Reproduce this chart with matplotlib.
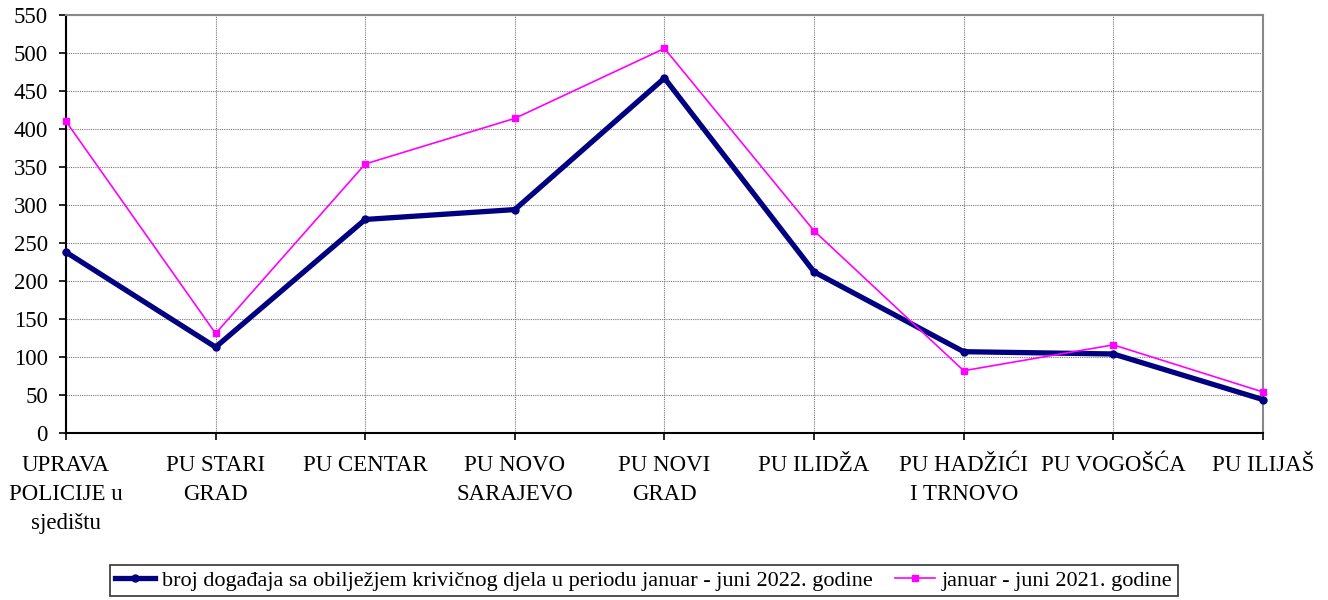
import matplotlib.pyplot as plt

plt.rcParams['font.family'] = ['Liberation Serif', 'DejaVu Serif']

categories = ['UPRAVA\nPOLICIJE u\nsjedištu', 'PU STARI\nGRAD', 'PU CENTAR',
              'PU NOVO\nSARAJEVO', 'PU NOVI\nGRAD', 'PU ILIDŽA',
              'PU HADŽIĆI\nI TRNOVO', 'PU VOGOŠĆA', 'PU ILIJAŠ']
y2022 = [238, 113, 281, 294, 467, 212, 107, 104, 44]
y2021 = [410, 131, 354, 414, 506, 266, 82, 116, 54]
label2022 = 'broj događaja sa obilježjem krivičnog djela u periodu januar - juni 2022. godine'
label2021 = 'januar - juni 2021. godine'

fig = plt.figure(figsize=(13.28, 6), dpi=100)
ax = fig.add_axes([0.0497, 0.2783, 0.9013, 0.6967])

x = list(range(len(categories)))
ax.plot(x, y2022, color='#000080', linewidth=3.8, marker='o', markersize=5,
        label=label2022, zorder=3, clip_on=False)
ax.plot(x, y2021, color='#FF00FF', linewidth=1.2, marker='s', markersize=5,
        label=label2021, zorder=4, clip_on=False)

ax.set_xlim(0, len(categories) - 1)
ax.set_ylim(0, 550)
ax.set_yticks(range(0, 551, 50))
ax.set_xticks(x)
ax.set_xticklabels(categories, fontsize=16.5, linespacing=1.5)
ax.tick_params(axis='y', labelsize=16.5, length=5, width=1.2, direction='out', pad=8)
ax.tick_params(axis='x', length=5, width=1.2, direction='out', pad=11)

ax.grid(True, color='#777777', linestyle=(0, (1, 1)), linewidth=0.8)
for s in ['top', 'right']:
    ax.spines[s].set_color('#888888')
    ax.spines[s].set_linewidth(1.5)
for s in ['left', 'bottom']:
    ax.spines[s].set_color('black')
    ax.spines[s].set_linewidth(1.5)

leg = fig.legend(loc='center', bbox_to_anchor=(0.4846, 0.0325), ncol=2,
                 fontsize=16, frameon=True, fancybox=False, edgecolor='black',
                 handlelength=1.8, columnspacing=1.0, handletextpad=0.3,
                 borderpad=0.25)
leg.get_frame().set_linewidth(1.2)

fig.savefig('out.png', dpi=100)
